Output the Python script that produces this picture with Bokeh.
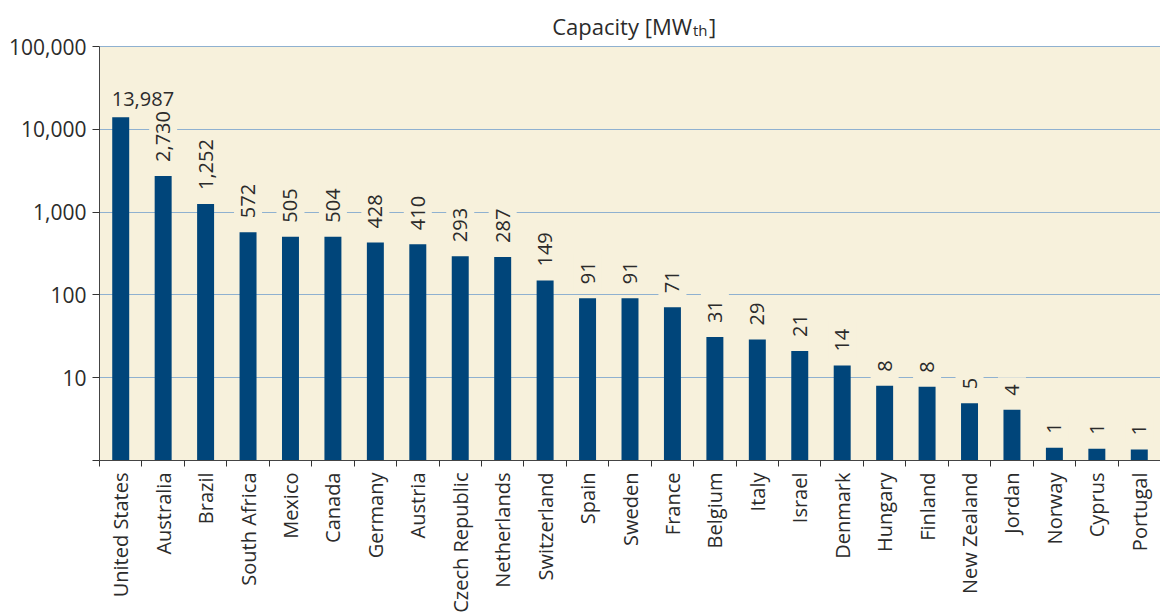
import math
from bokeh.plotting import figure
from bokeh.models import Range1d, FixedTicker, NumeralTickFormatter, Label, ColumnDataSource
from bokeh.core.properties import value
from bokeh.embed import file_html
from bokeh.resources import INLINE

countries = ["United States", "Australia", "Brazil", "South Africa", "Mexico", "Canada",
             "Germany", "Austria", "Czech Republic", "Netherlands", "Switzerland", "Spain",
             "Sweden", "France", "Belgium", "Italy", "Israel", "Denmark", "Hungary", "Finland",
             "New Zealand", "Jordan", "Norway", "Cyprus", "Portugal"]
capacity = [13987, 2730, 1252, 572, 505, 504, 428, 410, 293, 287, 149, 91, 91, 71, 31, 29,
            21, 14, 8.0, 7.8, 4.9, 4.1, 1.43, 1.39, 1.36]
y_ticks = [1, 10, 100, 1000, 10000, 100000]
title_main = "Capacity [MW"
title_sub = "th"
title_end = "]"

FONT = "Open Sans"
BG = "#f7f1dc"
BAR = "#00457a"
GRID = "#8fb1d0"
TXT = "#2b2b2b"

n = len(countries)
xs = [i + 0.5 for i in range(n)]
labels = [f"{round(v):,}" for v in capacity]
y_top = 10 ** (5 / 0.9)

p = figure(width=1160, height=616, output_backend="svg", toolbar_location=None,
           x_range=Range1d(0, n), y_range=Range1d(1, y_top),
           y_axis_type="log", min_border_left=99, min_border_top=0,
           min_border_right=0, min_border_bottom=156)
p.title.text = ""
p.title_location = None
p.background_fill_color = "white"
p.border_fill_color = "white"
p.outline_line_color = None

# cream plotting area (up to the top gridline)
p.quad(left=[0], right=[n], bottom=[y_ticks[0]], top=[y_ticks[-1]], color=BG,
       line_color=None, level="image")

src = ColumnDataSource(dict(x=xs, top=capacity, bottom=[y_ticks[0]] * n))
p.vbar(x="x", top="top", bottom="bottom", width=0.4, source=src, color=BAR, line_color=None)

# value labels (rotated ones first, the horizontal one drawn on top)
src_first = ColumnDataSource(dict(x=xs[:1], y=capacity[:1], label=labels[:1]))
src_rest = ColumnDataSource(dict(x=xs[1:], y=capacity[1:], label=labels[1:]))
p.text(x="x", y="y", text="label", source=src_rest, text_font=value(FONT),
       text_font_size="20px", text_color=TXT, text_align="left", text_baseline="middle",
       angle=math.pi / 2, y_offset=-7, background_fill_color=BG, padding=7)
p.text(x="x", y="y", text="label", source=src_first, text_font=value(FONT),
       text_font_size="20px", text_color=TXT, text_align="left", text_baseline="alphabetic",
       x_offset=-9, y_offset=-18)

# axes
yaxis = p.yaxis[0]
yaxis.bounds = (y_ticks[0], y_ticks[-1])
yaxis.ticker = FixedTicker(ticks=y_ticks, minor_ticks=[])
yaxis.formatter = NumeralTickFormatter(format="0,0")
yaxis.major_label_overrides = {1: ""}
yaxis.major_label_text_font = FONT
yaxis.major_label_text_font_size = "21px"
yaxis.major_label_text_color = TXT
yaxis.axis_line_color = "#444444"
yaxis.major_tick_line_color = "#333333"
yaxis.major_tick_out = 7
yaxis.major_tick_in = 0
yaxis.major_label_standoff = 6

xaxis = p.xaxis[0]
xaxis.ticker = FixedTicker(ticks=xs, minor_ticks=list(range(n + 1)))
xaxis.major_label_overrides = {x: c for x, c in zip(xs, countries)}
xaxis.major_label_orientation = math.pi / 2
xaxis.major_label_text_font = FONT
xaxis.major_label_text_font_size = "20px"
xaxis.major_label_text_color = TXT
xaxis.major_tick_line_color = None
xaxis.major_tick_out = 0
xaxis.major_tick_in = 0
xaxis.minor_tick_line_color = "#333333"
xaxis.minor_tick_out = 6
xaxis.minor_tick_in = 0
xaxis.axis_line_color = "#444444"
xaxis.major_label_standoff = 6

p.xgrid.grid_line_color = None
p.ygrid.ticker = FixedTicker(ticks=y_ticks[1:])
p.ygrid.grid_line_color = GRID
p.ygrid.grid_line_width = 1

# title with subscript
cx = n / 2
p.add_layout(Label(x=cx, y=y_ticks[-1], text=title_main, text_align="right",
                   text_baseline="alphabetic", x_offset=62, y_offset=21, text_font=FONT,
                   text_font_size="22px", text_color=TXT))
p.add_layout(Label(x=cx, y=y_ticks[-1], text=title_sub, text_align="left",
                   text_baseline="alphabetic", x_offset=63, y_offset=17, text_font=FONT,
                   text_font_size="15px", text_color=TXT))
p.add_layout(Label(x=cx, y=y_ticks[-1], text=title_end, text_align="left",
                   text_baseline="alphabetic", x_offset=79, y_offset=21, text_font=FONT,
                   text_font_size="22px", text_color=TXT))

open("out.html", "w").write(file_html(p, INLINE))
